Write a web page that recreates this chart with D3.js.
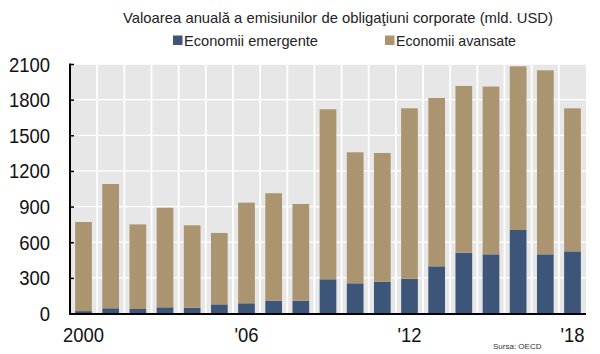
<!DOCTYPE html>
<html><head><meta charset="utf-8">
<script src="https://cdn.jsdelivr.net/npm/d3@7"></script>
<style>body{margin:0;background:#fff}svg{display:block;font-family:"Liberation Sans",Arial,sans-serif}</style>
</head><body><svg id="c" width="600" height="354"></svg>
<script>
const years = ["2000","2001","2002","2003","2004","2005","2006","2007","2008","2009","2010","2011","2012","2013","2014","2015","2016","2017","2018"];
const tickLabels = {"2000":"2000","2006":"'06","2012":"'12","2018":"'18"};
const emerging = [20,44,38,52,48,77,86,108,108,288,254,268,293,397,512,498,703,498,523];
const advanced = [750,1046,712,838,694,601,847,904,814,1431,1103,1083,1434,1417,1403,1412,1377,1549,1204];
const yTicks = [0,300,600,900,1200,1500,1800,2100];
const seriesNames = ["Economii emergente","Economii avansate"];
const colors = ["#3c5579","#aa9570"];

const svg = d3.select("#c");
const L=70, R=586, T=64, B=313.5;
const x = d3.scaleBand().domain(years).range([L,R]).paddingInner(0.385).paddingOuter(0.19);
const xg = d3.scaleBand().domain(years).range([L,R]);
const y = d3.scaleLinear().domain([0,2100]).range([B,T]);

svg.append("rect").attr("x",L).attr("y",T).attr("width",R-L).attr("height",B-T).attr("fill","#e7e7e7");
svg.append("g").selectAll("line").data(yTicks.slice(1)).join("line")
  .attr("x1",L).attr("x2",R).attr("y1",d=>y(d)).attr("y2",d=>y(d)).attr("stroke","#fff").attr("stroke-width",1.3);
svg.append("g").selectAll("line").data(years.slice(1)).join("line")
  .attr("x1",d=>xg(d)).attr("x2",d=>xg(d)).attr("y1",T).attr("y2",B).attr("stroke","#fff").attr("stroke-width",1.8);

const data = years.map((yr,i)=>({year:yr, emerging:emerging[i], advanced:advanced[i]}));
const stack = d3.stack().keys(["emerging","advanced"])(data);
svg.append("g").selectAll("g").data(stack).join("g").attr("fill",(d,i)=>colors[i])
  .selectAll("rect").data(d=>d).join("rect")
  .attr("x",d=>x(d.data.year)).attr("width",x.bandwidth())
  .attr("y",d=>y(d[1])).attr("height",d=>y(d[0])-y(d[1]));

const ya = svg.append("g").attr("transform",`translate(${L},0)`)
  .call(d3.axisRight(y).tickValues(yTicks).tickSize(4).tickFormat(""));
ya.select(".domain").remove();
ya.selectAll(".tick line").attr("stroke","#000").attr("stroke-width",1.5);
svg.append("line").attr("x1",L).attr("x2",L).attr("y1",T-0.5).attr("y2",B+1).attr("stroke","#000").attr("stroke-width",2);
svg.append("g").selectAll("text").data(yTicks).join("text")
  .attr("transform",d=>`translate(50,${y(d)+7.5}) scale(0.9,1)`).attr("text-anchor","end")
  .attr("font-size",20.5).attr("fill","#111").text(d=>d);

svg.append("line").attr("x1",L-1).attr("x2",R).attr("y1",B+0.5).attr("y2",B+0.5).attr("stroke","#000").attr("stroke-width",2);
svg.append("g").selectAll("text").data(years.filter(d=>tickLabels[d])).join("text")
  .attr("transform",d=>`translate(${xg(d)+xg.bandwidth()/2},342) scale(0.9,1)`).attr("text-anchor","middle")
  .attr("font-size",20.5).attr("fill","#111").text(d=>tickLabels[d]);

svg.append("text").attr("x",123).attr("y",22.5).attr("font-size",15).attr("fill","#222")
  .attr("textLength",430).attr("lengthAdjust","spacingAndGlyphs")
  .text("Valoarea anuală a emisiunilor de obligaţiuni corporate (mld. USD)");
const lx=[173,385], lw=[134,120];
seriesNames.forEach((n,i)=>{
  svg.append("rect").attr("x",lx[i]).attr("y",35.5).attr("width",9.5).attr("height",9.5).attr("fill",colors[i]);
  svg.append("text").attr("x",lx[i]+11).attr("y",45.5).attr("font-size",15).attr("fill","#222")
    .attr("textLength",lw[i]).attr("lengthAdjust","spacingAndGlyphs").text(n);
});
svg.append("text").attr("x",493).attr("y",349).attr("font-size",8).attr("fill","#333").text("Sursa: OECD");
</script></body></html>
